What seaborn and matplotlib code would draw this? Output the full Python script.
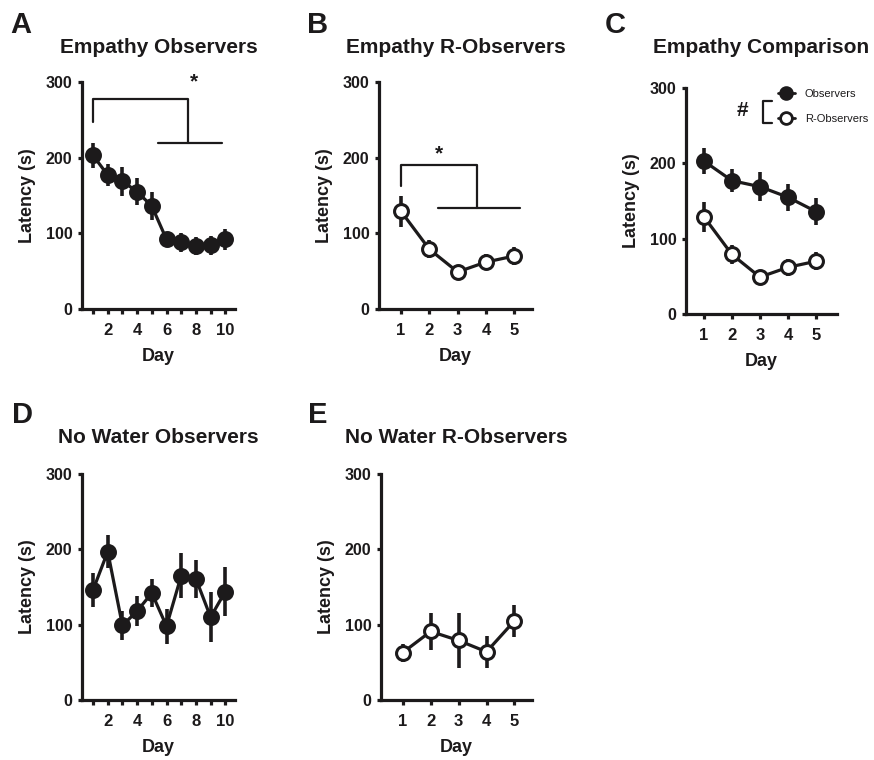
import numpy as np
import pandas as pd
import matplotlib
matplotlib.use('Agg')
import matplotlib.pyplot as plt
from matplotlib.lines import Line2D
import seaborn as sns

# data (mean latency in s, SEM)
days10 = [1, 2, 3, 4, 5, 6, 7, 8, 9, 10]
days5 = [1, 2, 3, 4, 5]

emp_obs_mean = [203, 177, 169, 155, 136, 92, 88, 83, 84, 92]
emp_obs_sem = [17, 15, 19, 18, 18, 10, 13, 12, 12, 14]

emp_robs_mean = [129, 79, 49, 62, 70]
emp_robs_sem = [20, 12, 7, 11, 12]

nw_obs_mean = [146, 197, 99, 118, 142, 98, 165, 161, 110, 144]
nw_obs_sem = [23, 22, 19, 20, 19, 23, 30, 25, 33, 33]

nw_robs_mean = [63, 91, 79, 64, 105]
nw_robs_sem = [12, 25, 36, 21, 21]

DARK = '#1c1a1b'

sns.set_style('ticks')
plt.rcParams['font.family'] = ['Liberation Sans', 'DejaVu Sans']
plt.rcParams['font.weight'] = 'bold'
plt.rcParams['axes.labelweight'] = 'bold'
plt.rcParams['axes.titleweight'] = 'bold'
plt.rcParams['text.color'] = DARK
plt.rcParams['axes.labelcolor'] = DARK
plt.rcParams['xtick.color'] = DARK
plt.rcParams['ytick.color'] = DARK

W, H = 874, 760
fig = plt.figure(figsize=(W / 100, H / 100), dpi=100)


def make_axes(left, right, top, bottom):
    return fig.add_axes([left / W, 1 - bottom / H, (right - left) / W, (bottom - top) / H])


def draw_series(ax, days, mean, sem, filled, label=None):
    df = pd.DataFrame({'Day': days, 'Latency': mean})
    ax.errorbar(days, mean, yerr=sem, fmt='none', ecolor=DARK, elinewidth=2.6,
                capsize=0, zorder=2)
    sns.lineplot(data=df, x='Day', y='Latency', ax=ax, color=DARK, linewidth=2.3,
                 marker='o', markersize=10, markeredgewidth=2.2,
                 markerfacecolor=DARK if filled else 'white', markeredgecolor=DARK,
                 label=label, legend=False, zorder=3)


def style_axes(ax, days, xlim, title, pad, even_only=False):
    ax.set_xlim(*xlim)
    ax.set_ylim(0, 300)
    ax.set_yticks([0, 100, 200, 300])
    ax.set_xticks(days)
    if even_only:
        ax.set_xticklabels(['' if d % 2 else str(d) for d in days])
    sns.despine(ax=ax)
    for s in ['left', 'bottom']:
        ax.spines[s].set_linewidth(2.3)
        ax.spines[s].set_color(DARK)
    ax.tick_params(axis='x', direction='out', length=3.5, width=2.3, pad=6.5, labelsize=12)
    ax.tick_params(axis='y', direction='out', length=3, width=2.3, pad=4, labelsize=11.5)
    ax.set_xlabel('Day', fontsize=13, labelpad=7.5)
    ax.set_ylabel('Latency (s)', fontsize=13, labelpad=7)
    ax.set_title(title, fontsize=15, pad=pad)


# A
axA = make_axes(82, 235, 82, 309)
draw_series(axA, days10, emp_obs_mean, emp_obs_sem, True)
style_axes(axA, days10, (0.25, 10.66), 'Empathy Observers', 21, even_only=True)
axA.plot([1, 1, 7.46, 7.46], [247, 277, 277, 219], color=DARK, lw=1.6, clip_on=False)
axA.plot([5.4, 9.8], [219, 219], color=DARK, lw=1.6, clip_on=False)
axA.text(7.9, 300, '*', fontsize=15, ha='center', va='center', clip_on=False)

# B
axB = make_axes(379, 532, 82, 309)
draw_series(axB, days5, emp_robs_mean, emp_robs_sem, False)
style_axes(axB, days5, (0.22, 5.63), 'Empathy R-Observers', 21)
axB.plot([1, 1, 3.69, 3.69], [163, 190, 190, 134], color=DARK, lw=1.6)
axB.plot([2.3, 5.2], [134, 134], color=DARK, lw=1.6)
axB.text(2.35, 205, '*', fontsize=15, ha='center', va='center')

# C
axC = make_axes(686, 837, 88, 314)
draw_series(axC, days5, emp_obs_mean[:5], emp_obs_sem[:5], True)
draw_series(axC, days5, emp_robs_mean, emp_robs_sem, False)
style_axes(axC, days5, (0.36, 5.75), 'Empathy Comparison', 25)
handles = [
    Line2D([], [], color=DARK, lw=2, marker='o', markersize=8.5, markeredgewidth=2,
           markerfacecolor=DARK, markeredgecolor=DARK),
    Line2D([], [], color=DARK, lw=2, marker='o', markersize=8.5, markeredgewidth=2,
           markerfacecolor='white', markeredgecolor=DARK),
]
leg = axC.legend(handles, ['Observers', 'R-Observers'], loc='upper left',
                 bbox_to_anchor=(0.61, 0.995), frameon=False, borderpad=0,
                 borderaxespad=0, handlelength=1.5, handletextpad=0.9,
                 labelspacing=1.35, prop={'size': 8, 'weight': 'normal'})
axC.text(0.377, 0.9, '#', transform=axC.transAxes, fontsize=15, ha='center', va='center')
axC.plot([0.57, 0.51, 0.51, 0.57], [0.942, 0.942, 0.845, 0.845], color=DARK, lw=1.6,
         transform=axC.transAxes, clip_on=False)

# D
axD = make_axes(82, 235, 474, 700)
draw_series(axD, days10, nw_obs_mean, nw_obs_sem, True)
style_axes(axD, days10, (0.25, 10.66), 'No Water Observers', 22, even_only=True)

# E
axE = make_axes(381, 532, 474, 700)
draw_series(axE, days5, nw_robs_mean, nw_robs_sem, False)
style_axes(axE, days5, (0.22, 5.63), 'No Water R-Observers', 22)

# panel letters
for letter, x, y in [('A', 10, 33), ('B', 307, 33), ('C', 605, 33), ('D', 12, 423), ('E', 308, 423)]:
    fig.text(x / W, 1 - y / H, letter, fontsize=21, fontweight='bold', ha='left', va='baseline')

fig.savefig('out.png', dpi=100)
plt.close(fig)
